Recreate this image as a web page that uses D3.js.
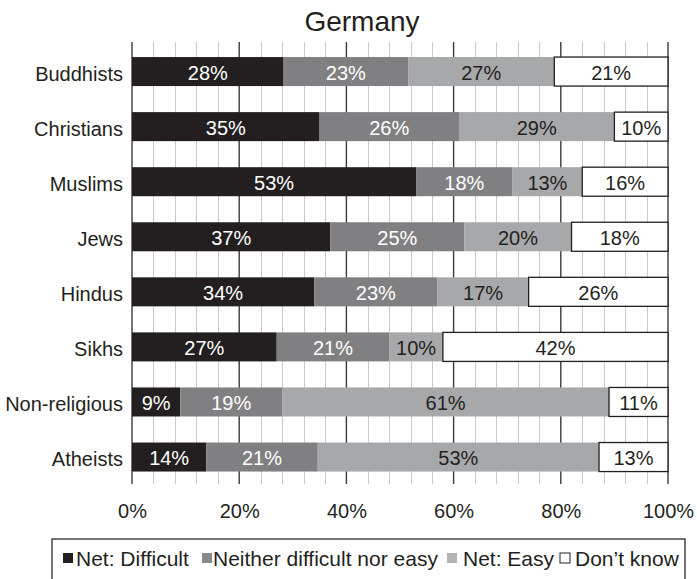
<!DOCTYPE html>
<html>
<head>
<meta charset="utf-8">
<script src="https://cdn.jsdelivr.net/npm/d3@7"></script>
<style>
  html, body { margin: 0; padding: 0; background: #fff; }
  svg { display: block; font-family: "Liberation Sans", Arial, Helvetica, sans-serif; }
</style>
</head>
<body>
<svg id="chart" width="697" height="579"></svg>
<script>
// Survey shares per group (percent)
const categories = ["Buddhists", "Christians", "Muslims", "Jews", "Hindus", "Sikhs", "Non-religious", "Atheists"];
const seriesNames = ["Net: Difficult", "Neither difficult nor easy", "Net: Easy", "Don\u2019t know"];
const netDifficult = [28, 35, 53, 37, 34, 27, 9, 14];
const neither      = [23, 26, 18, 25, 23, 21, 19, 21];
const netEasy      = [27, 29, 13, 20, 17, 10, 61, 53];
const dontKnow     = [21, 10, 16, 18, 26, 42, 11, 13];
const tickValues = [0, 0.2, 0.4, 0.6, 0.8, 1];
const title = "Germany";

const fills = ["#231f20", "#808082", "#a7a8aa", "#ffffff"];
const labelColors = ["#ffffff", "#ffffff", "#231f20", "#231f20"];
const legendFills = ["#231f20", "#8a8a8c", "#b3b3b5", "#ffffff"];

const keys = ["d", "n", "e", "k"];
const rows = categories.map((c, i) => ({
  cat: c, d: netDifficult[i], n: neither[i], e: netEasy[i], k: dontKnow[i]
}));

const svg = d3.select("#chart");

const x = d3.scaleLinear().domain([0, 1]).range([132, 668]);
const y = d3.scaleBand().domain(categories).range([31, 497.6]).padding(0.473);

const gridTop = 42, gridBottom = 484;

// Title
svg.append("text")
  .attr("x", 362).attr("y", 31)
  .attr("text-anchor", "middle")
  .attr("font-size", 28)
  .attr("fill", "#231f20")
  .text(title);

// Minor grid lines every 4%
const grid = svg.append("g");
grid.selectAll("line.minor")
  .data(d3.range(0, 1.0001, 0.04).filter(v => Math.round(v * 100) % 20 !== 0))
  .join("line")
  .attr("class", "minor")
  .attr("x1", d => Math.round(x(d)) + 0.5).attr("x2", d => Math.round(x(d)) + 0.5)
  .attr("y1", gridTop).attr("y2", gridBottom)
  .attr("stroke", "#c9c9cb").attr("stroke-width", 1);

// Major grid lines every 20%
grid.selectAll("line.major")
  .data(tickValues)
  .join("line")
  .attr("class", "major")
  .attr("x1", d => x(d)).attr("x2", d => x(d))
  .attr("y1", gridTop).attr("y2", gridBottom)
  .attr("stroke", "#3a3a3a").attr("stroke-width", 1.4);

// Stacked bars normalized to 100%
const stack = d3.stack().keys(keys).offset(d3.stackOffsetExpand);
const layers = stack(rows);

const barG = svg.append("g");
layers.forEach((layer, li) => {
  const g = barG.append("g");
  g.selectAll("rect")
    .data(layer)
    .join("rect")
    .attr("x", d => x(d[0]))
    .attr("y", d => y(d.data.cat))
    .attr("width", d => x(d[1]) - x(d[0]))
    .attr("height", y.bandwidth())
    .attr("fill", fills[li])
    .attr("stroke", li === 3 ? "#231f20" : "none")
    .attr("stroke-width", li === 3 ? 1.3 : 0);
  g.selectAll("text")
    .data(layer)
    .join("text")
    .attr("x", d => (x(d[0]) + x(d[1])) / 2)
    .attr("y", d => y(d.data.cat) + y.bandwidth() / 2)
    .attr("dy", "0.4em")
    .attr("text-anchor", "middle")
    .attr("font-size", 20)
    .attr("fill", labelColors[li])
    .text(d => d.data[keys[li]] + "%");
});

// Category axis labels
svg.append("g").selectAll("text")
  .data(categories)
  .join("text")
  .attr("x", 123)
  .attr("y", d => y(d) + y.bandwidth() / 2)
  .attr("dy", "0.45em")
  .attr("text-anchor", "end")
  .attr("font-size", 20)
  .attr("fill", "#231f20")
  .text(d => d);

// Percentage axis
const xAxis = d3.axisBottom(x)
  .tickValues(tickValues)
  .tickFormat(d3.format(".0%"))
  .tickSize(0)
  .tickPadding(0);
const axG = svg.append("g")
  .attr("transform", "translate(0,518)")
  .call(xAxis);
axG.select(".domain").remove();
axG.selectAll("text")
  .attr("font-size", 20)
  .attr("font-family", "Liberation Sans, Arial, sans-serif")
  .attr("fill", "#231f20")
  .attr("dy", 0)
  .attr("y", 0);

// Legend
const legend = svg.append("g");
legend.append("rect")
  .attr("x", 52).attr("y", 539)
  .attr("width", 633).attr("height", 60)
  .attr("fill", "#fff")
  .attr("stroke", "#3a3a3a").attr("stroke-width", 1.4);

const legendItems = [
  { sq: 63, tx: 76 },
  { sq: 202, tx: 213 },
  { sq: 447, tx: 463 },
  { sq: 560, tx: 575 }
];
seriesNames.forEach((name, i) => {
  const it = legendItems[i];
  legend.append("rect")
    .attr("x", it.sq).attr("y", 553)
    .attr("width", 10).attr("height", 10)
    .attr("fill", legendFills[i])
    .attr("stroke", i === 3 ? "#231f20" : "none")
    .attr("stroke-width", 1);
  legend.append("text")
    .attr("x", it.tx).attr("y", 566)
    .attr("font-size", 21)
    .attr("fill", "#231f20")
    .text(name);
});
</script>
</body>
</html>
